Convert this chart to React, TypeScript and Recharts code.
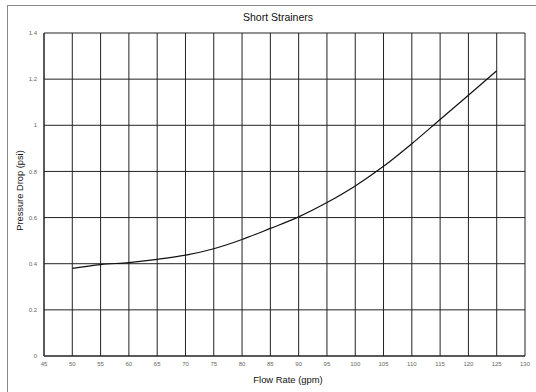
import React from 'react';
import { LineChart, Line, XAxis, YAxis, CartesianGrid } from 'recharts';

const flowRates = [50, 55, 60, 65, 70, 75, 80, 85, 90, 95, 100, 105, 110, 115, 120, 125];
const pressureDrops = [0.38, 0.396, 0.405, 0.419, 0.437, 0.465, 0.505, 0.553, 0.603, 0.665, 0.737, 0.822, 0.92, 1.025, 1.13, 1.236];
const xTicks = [45, 50, 55, 60, 65, 70, 75, 80, 85, 90, 95, 100, 105, 110, 115, 120, 125, 130];
const yTicks = [0, 0.2, 0.4, 0.6, 0.8, 1, 1.2, 1.4];

const data = flowRates.map((f, i) => ({ flow: f, drop: pressureDrops[i] }));

const font = 'Liberation Sans, Arial, sans-serif';

export default function App() {
  return (
    <div style={{ position: 'absolute', left: 0, top: 0, width: 536, height: 392, overflow: 'hidden', background: '#fff', fontFamily: font }}>
      <div style={{ position: 'absolute', left: 7, top: 5, width: 600, height: 500, border: '1px solid #8a8a8a' }} />
      <div style={{ position: 'absolute', left: 0, width: 556, top: 11, textAlign: 'center', fontSize: 10.5, color: '#111', lineHeight: '13px' }}>Short Strainers</div>
      <div style={{ position: 'absolute', left: 0, width: 576, top: 373, textAlign: 'center', fontSize: 9.4, color: '#111', lineHeight: '13px' }}>Flow Rate (gpm)</div>
      <div style={{ position: 'absolute', left: 20, top: 190, width: 0, height: 0 }}>
        <div style={{ position: 'absolute', left: -100, top: -6.5, width: 200, textAlign: 'center', transform: 'rotate(-90deg)', fontSize: 9.3, color: '#111', lineHeight: '13px', whiteSpace: 'nowrap' }}>Pressure Drop (psi)</div>
      </div>
      <div style={{ position: 'absolute', left: 0, top: 0 }}>
        <LineChart width={536} height={392} data={data} margin={{ top: 33, right: 11, bottom: 6, left: 14 }}>
          <CartesianGrid stroke="#222" strokeWidth={1} horizontalValues={yTicks} verticalValues={xTicks} />
          <XAxis
            dataKey="flow"
            type="number"
            domain={[45, 130]}
            ticks={xTicks}
            interval={0}
            height={30}
            tickLine={false}
            tickSize={0}
            tickMargin={6}
            axisLine={{ stroke: '#222' }}
            tick={{ fontSize: 6, fill: '#666', fontFamily: font }}
          />
          <YAxis
            type="number"
            domain={[0, 1.4]}
            ticks={yTicks}
            interval={0}
            width={30}
            tickLine={false}
            tickSize={0}
            tickMargin={7}
            axisLine={{ stroke: '#222' }}
            tick={{ fontSize: 6, fill: '#666', fontFamily: font }}
          />
          <Line type="monotone" dataKey="drop" stroke="#111" strokeWidth={1.2} dot={false} isAnimationActive={false} />
        </LineChart>
      </div>
    </div>
  );
}
